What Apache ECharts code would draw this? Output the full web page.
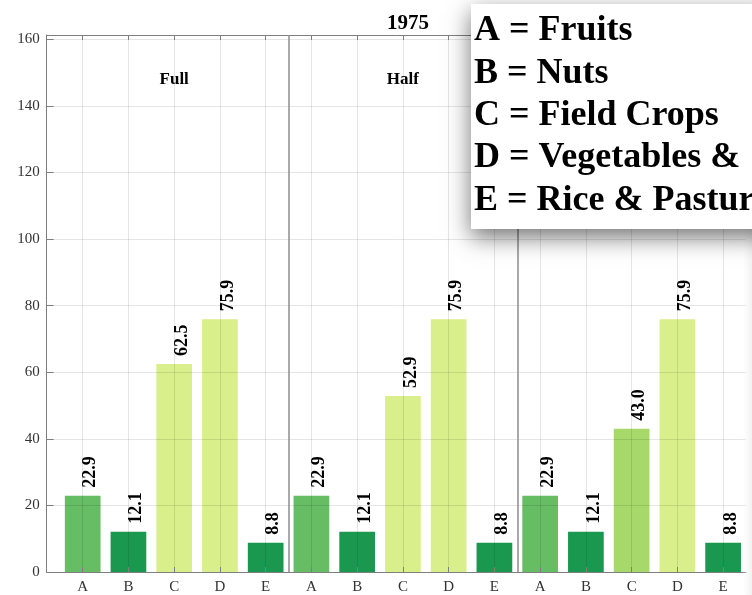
<!DOCTYPE html>
<html>
<head>
<meta charset="utf-8">
<script src="https://cdn.jsdelivr.net/npm/echarts@6/dist/echarts.min.js"></script>
<style>
  html, body { margin: 0; padding: 0; background: #fff; }
  #main { width: 752px; height: 595px; }
</style>
</head>
<body>
<div id="main"></div>
<script>
// categories and values
var letters = ['A', 'B', 'C', 'D', 'E'];
var panelNames = ['Full', 'Half'];
var fullVals = [22.9, 12.1, 62.5, 75.9, 8.8];
var halfVals = [22.9, 12.1, 52.9, 75.9, 8.8];
var thirdVals = [22.9, 12.1, 43.0, 75.9, 8.8];
var yTicks = [0, 20, 40, 60, 80, 100, 120, 140, 160];
var legendLines = ['A = Fruits', 'B = Nuts', 'C = Field Crops', 'D = Vegetables &', 'E = Rice & Pasture'];

var panels = [fullVals, halfVals, thirdVals];
var xTicks = [];
var barData = [];
panels.forEach(function (vals, p) {
    vals.forEach(function (v, i) {
        var x = p * 5 + i + 1;
        xTicks.push(x);
        barData.push([x, v]);
    });
});

// RdYlGn greens by value
function barColor(v) {
    if (v >= 50) return '#d9ef8b';
    if (v >= 30) return '#a6d96a';
    if (v >= 15) return '#66bd63';
    return '#1a9850';
}

var serif = '"Liberation Serif", "Times New Roman", serif';
var axisGray = '#7f7f7f';
var gridGray = 'rgba(0,0,0,0.1)';

var myChart = echarts.init(document.getElementById('main'));

var graphics = [{
    type: 'rect',
    z: 100,
    shape: { x: 471, y: 4, width: 300, height: 225 },
    style: { fill: '#fff', shadowBlur: 22, shadowColor: 'rgba(0,0,0,0.55)', shadowOffsetY: 8 }
}, {
    // soft haze at the right edge
    type: 'rect',
    z: 99,
    shape: { x: 742, y: 229, width: 10, height: 366 },
    style: {
        fill: new echarts.graphic.LinearGradient(0, 0, 1, 0, [
            { offset: 0, color: 'rgba(245,245,245,0)' },
            { offset: 1, color: 'rgba(240,240,240,0.9)' }
        ])
    }
}];
legendLines.forEach(function (t, i) {
    graphics.push({
        type: 'text',
        z: 101,
        x: 474,
        y: 31 + i * 42.35,
        style: {
            text: t,
            font: 'bold 36px ' + serif,
            fill: '#000',
            verticalAlign: 'middle'
        }
    });
});

var option = {
    animation: false,
    title: {
        text: '1975',
        left: 403,
        top: 8,
        textAlign: 'center',
        textStyle: { fontFamily: serif, fontWeight: 'bold', fontSize: 21, color: '#000' }
    },
    grid: { left: 46.7, right: 6, top: 35, bottom: 21.3 },
    xAxis: [{
        type: 'value',
        min: 0.213,
        max: 15.5,
        position: 'bottom',
        z: 3,
        axisLine: { show: true, lineStyle: { color: axisGray, width: 1 } },
        axisTick: { show: true, inside: true, length: 5, customValues: xTicks, lineStyle: { color: axisGray } },
        axisLabel: {
            customValues: xTicks,
            formatter: function (v) { return letters[(Math.round(v) - 1) % 5]; },
            fontFamily: serif, fontSize: 15, color: '#333', margin: 8
        },
        splitLine: { show: true, lineStyle: { color: gridGray, width: 1 } }
    }, {
        type: 'value',
        min: 0.213,
        max: 15.5,
        position: 'top',
        z: 3,
        axisLine: { show: true, lineStyle: { color: axisGray, width: 1 } },
        axisTick: { show: true, inside: true, length: 5, customValues: xTicks, lineStyle: { color: axisGray } },
        axisLabel: { show: false },
        splitLine: { show: false }
    }],
    yAxis: {
        type: 'value',
        min: 0,
        max: 161.3,
        z: 3,
        axisLine: { show: true, lineStyle: { color: axisGray, width: 1 } },
        axisTick: { show: true, inside: true, length: 7, customValues: yTicks, lineStyle: { color: axisGray } },
        axisLabel: { customValues: yTicks, fontFamily: serif, fontSize: 15, color: '#333', margin: 7 },
        splitLine: { show: true, lineStyle: { color: gridGray, width: 1 } }
    },
    series: [{
        type: 'bar',
        data: barData,
        barWidth: 35.7,
        itemStyle: {
            color: function (p) { return barColor(p.value[1]); }
        },
        label: {
            show: true,
            position: 'top',
            rotate: 90,
            align: 'left',
            verticalAlign: 'top',
            distance: 8,
            offset: [0, -1],
            fontFamily: serif,
            fontWeight: 'bold',
            fontSize: 18,
            color: '#000',
            formatter: function (p) { return p.value[1].toFixed(1); }
        },
        markLine: {
            silent: true,
            symbol: 'none',
            label: { show: false },
            lineStyle: { color: '#8c8c8c', width: 1.5, type: 'solid' },
            data: [{ xAxis: 5.5 }, { xAxis: 10.5 }]
        }
    }, {
        type: 'scatter',
        z: 5,
        symbolSize: 0,
        itemStyle: { opacity: 1 },
        data: panelNames.map(function (n, p) { return [p * 5 + 3, 147.8, n]; }),
        label: {
            show: true,
            position: 'inside',
            fontFamily: serif,
            fontWeight: 'bold',
            fontSize: 17,
            color: '#000',
            textBorderWidth: 0,
            formatter: function (p) { return p.value[2]; }
        }
    }],
    graphic: graphics
};

myChart.setOption(option);
</script>
</body>
</html>
